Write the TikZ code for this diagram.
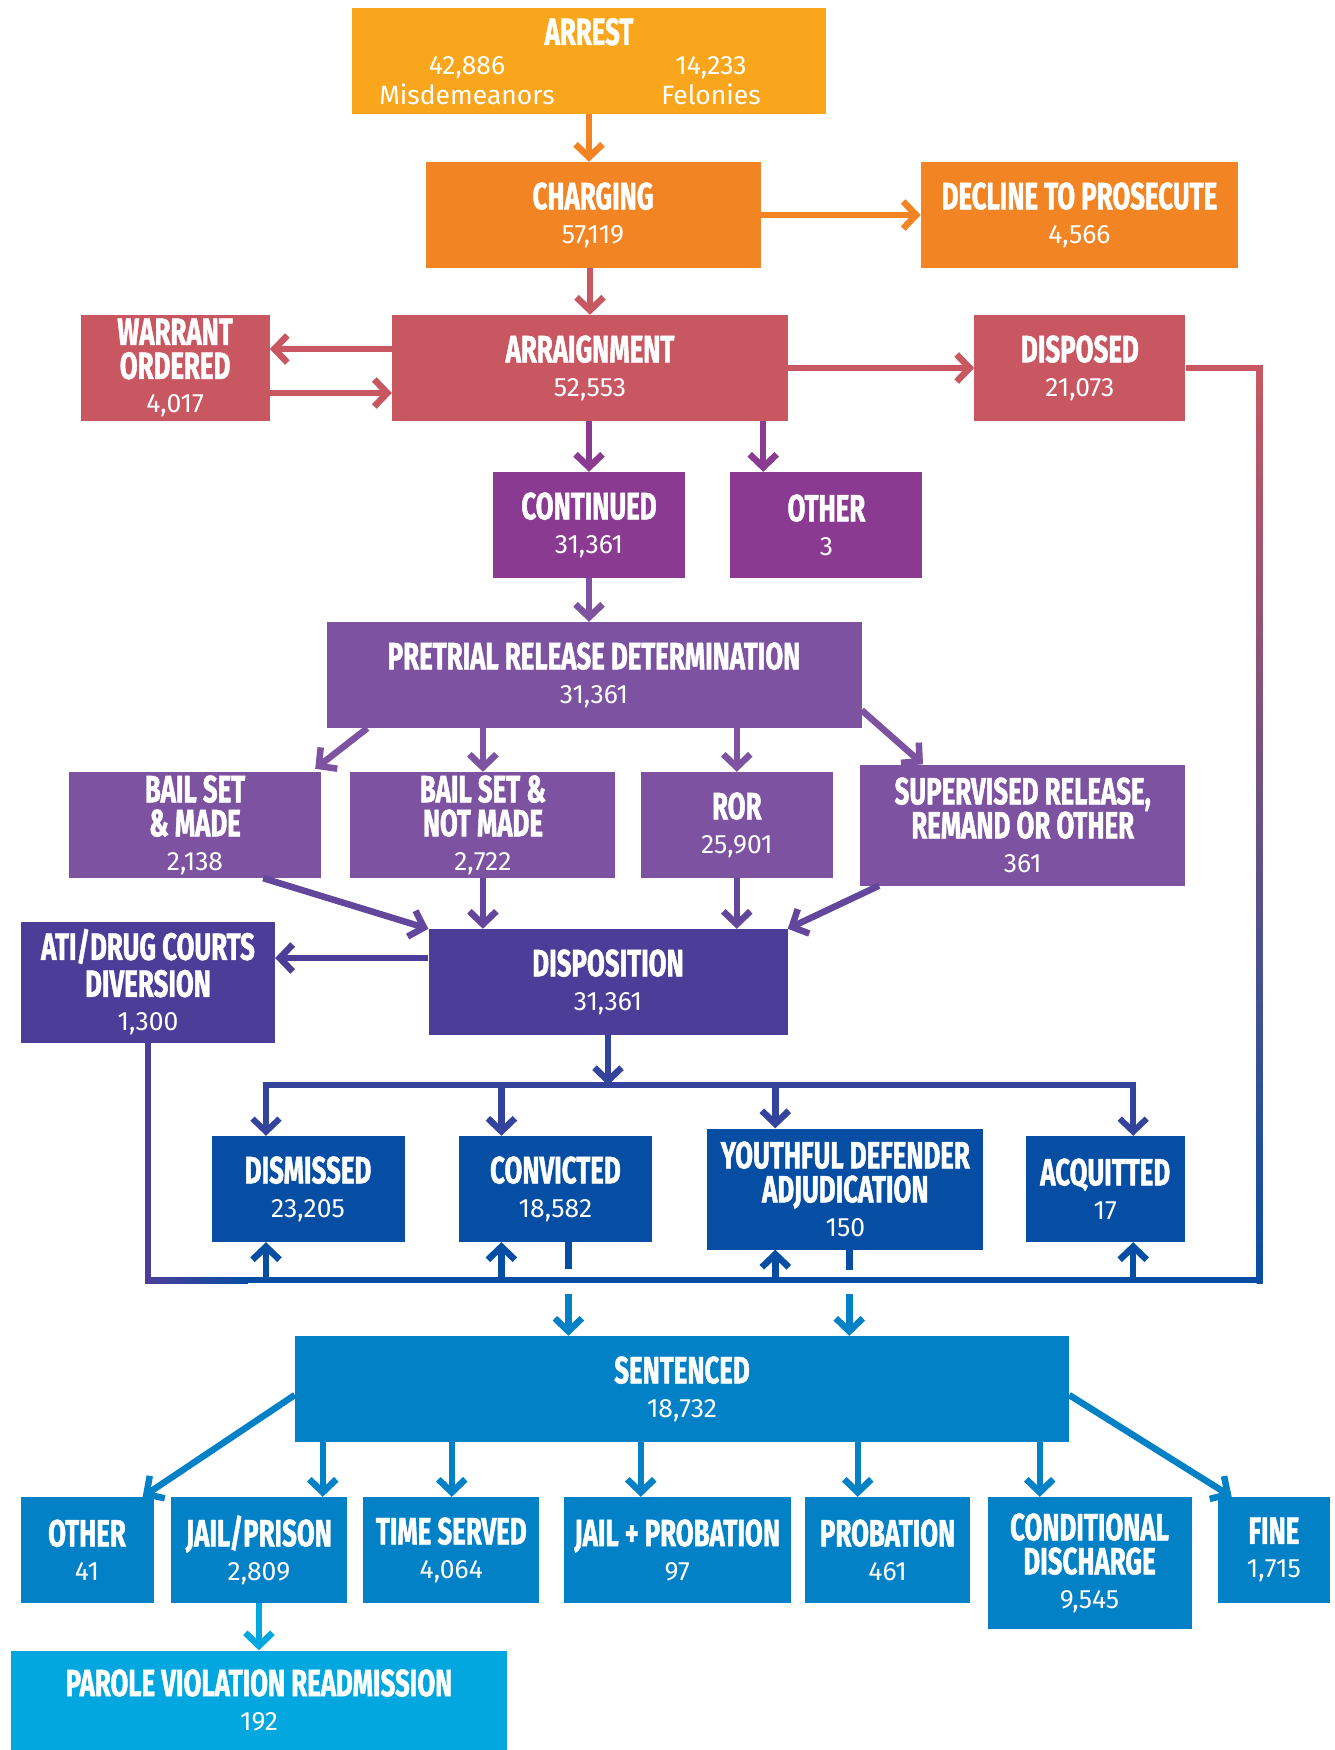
\documentclass[tikz,border=0pt]{standalone}
\usepackage{fontspec}
\usepackage{array}
\usetikzlibrary{positioning,arrows.meta}
\newfontfamily\hdfam{Fira Sans}[FakeStretch=0.68,FakeBold=1.2]
\newfontfamily\nmfam{Fira Sans}
\newcommand\hd{\hdfam\bfseries\fontsize{38}{34}\selectfont}
\newcommand\nm{\nmfam\mdseries\fontsize{26.5}{34}\selectfont}
\definecolor{cArrest}{HTML}{F9A61D}
\definecolor{cCharge}{HTML}{F28423}
\definecolor{cArraign}{HTML}{C95762}
\definecolor{cCont}{HTML}{8A3A91}
\definecolor{cPre}{HTML}{7C52A1}
\definecolor{cDisp}{HTML}{4C3E98}
\definecolor{cVerd}{HTML}{064EA3}
\definecolor{cSent}{HTML}{0281C6}
\definecolor{cParole}{HTML}{02A7E0}
\colorlet{cDispA}{cPre!45!cDisp}
\colorlet{cBus}{cDisp!65!cVerd}
\tikzset{
barb/.tip={Straight Barb[length=13pt,width=27pt]},
box/.style={fill=#1,text=white,align=center,inner sep=0pt,minimum height=106pt,font=\hd},
arr/.style={draw=#1,line width=6.5pt,-barb},
}
\begin{document}
\begin{tikzpicture}[x=1pt,y=-1pt]
\fill[white] (0,0) rectangle (1335,1750);
\useasboundingbox (0,0) rectangle (1335,1750);
\node[box=cArrest,minimum width=474pt](arrest) at (589,61){\rule{0pt}{36pt}ARREST\\[8pt]{\nm\fontsize{26.5}{29}\selectfont\begin{tabular}{@{}>{\centering}p{200pt}@{\hspace{44pt}}>{\centering\arraybackslash}p{200pt}@{}}42,886&14,233\\Misdemeanors&Felonies\end{tabular}}};
\node[box=cCharge,minimum width=335pt](charge) at (593,215){CHARGING\\\nm 57,119};
\node[box=cCharge,minimum width=317pt,right=160pt of charge](decline){DECLINE TO PROSECUTE\\\nm 4,566};
\node[box=cArraign,minimum width=396pt](arraign) at (590,368){ARRAIGNMENT\\\nm 52,553};
\node[box=cArraign,minimum width=189pt,left=122pt of arraign](warrant){WARRANT\\ORDERED\\\nm 4,017};
\node[box=cArraign,minimum width=211pt,right=186pt of arraign](disposed){DISPOSED\\\nm 21,073};
\node[box=cCont,minimum width=192pt](cont) at (589,525){CONTINUED\\\nm 31,361};
\node[box=cCont,minimum width=192pt,right=45pt of cont](other){OTHER\\\nm 3};
\node[box=cPre,minimum width=535pt](pre) at (594,675){PRETRIAL RELEASE DETERMINATION\\\nm 31,361};
\node[box=cPre,minimum width=252pt](bailm) at (195,825){BAIL SET\\\& MADE\\\nm 2,138};
\node[box=cPre,minimum width=265pt,right=29pt of bailm](bailn){BAIL SET \&\\NOT MADE\\\nm 2,722};
\node[box=cPre,minimum width=192pt,right=25pt of bailn](ror){ROR\\\nm 25,901};
\node[box=cPre,minimum width=325pt,minimum height=121pt,right=27pt of ror](sup){SUPERVISED RELEASE,\\REMAND OR OTHER\\\nm 361};
\node[box=cDisp,minimum width=359pt](disp) at (608,982){DISPOSITION\\\nm 31,361};
\node[box=cDisp,minimum width=254pt,minimum height=121pt](ati) at (148,982){ATI/DRUG COURTS\\[3pt]DIVERSION\\\nm 1,300};
\node[box=cVerd,minimum width=193pt](dism) at (308,1189){DISMISSED\\\nm 23,205};
\node[box=cVerd,minimum width=193pt,right=54pt of dism](conv){CONVICTED\\\nm 18,582};
\node[box=cVerd,minimum width=276pt,minimum height=121pt,right=55pt of conv](youth){YOUTHFUL DEFENDER\\ADJUDICATION\\\nm 150};
\node[box=cVerd,minimum width=159pt,right=42pt of youth](acq){ACQUITTED\\\nm 17};
\node[box=cSent,minimum width=774pt](sent) at (682,1389){SENTENCED\\\nm 18,732};
\node[box=cSent,minimum width=133pt](oth) at (87,1550){OTHER\\\nm 41};
\node[box=cSent,minimum width=176pt,right=17pt of oth](jail){JAIL/PRISON\\\nm 2,809};
\node[box=cSent,minimum width=176pt,right=16pt of jail](served){TIME SERVED\\\nm 4,064};
\node[box=cSent,minimum width=227pt,right=24pt of served](jprob){JAIL + PROBATION\\\nm 97};
\node[box=cSent,minimum width=165pt,right=14pt of jprob](prob){PROBATION\\\nm 461};
\node[box=cSent,minimum width=204pt,minimum height=132pt,right=17pt of prob.north east,anchor=north west](cond){CONDITIONAL\\DISCHARGE\\\nm 9,545};
\node[box=cSent,minimum width=112pt,right=26pt of cond.north east,anchor=north west](fine){FINE\\\nm 1,715};
\node[box=cParole,minimum width=496pt,minimum height=99pt](parole) at (259,1700){PAROLE VIOLATION READMISSION\\\nm 192};
\draw[arr=cCharge] (arrest.south) -- (arrest.south |- charge.north);
\draw[arr=cCharge] (charge.east) -- (decline.west);
\draw[arr=cArraign] (charge.south -| arraign.north) -- (arraign.north);
\draw[arr=cArraign] ([yshift=19pt]arraign.west) -- ([yshift=19pt]warrant.east);
\draw[arr=cArraign] ([yshift=-25pt]warrant.east) -- ([yshift=-25pt]arraign.west);
\draw[arr=cArraign] (arraign.east) -- (disposed.west);
\draw[arr=cCont] (arraign.south -| cont.north) -- (cont.north);
\path ([xshift=-25pt]arraign.south east) coordinate (a1);
\draw[arr=cCont] (a1) -- (a1 |- other.north);
\draw[arr=cPre] (cont.south) -- (cont.south |- pre.north);
\draw[arr=cPre] ([xshift=41pt]pre.south west) -- ([xshift=-6pt,yshift=3pt]bailm.north east);
\draw[arr=cPre] (pre.south -| bailn.north) -- (bailn.north);
\draw[arr=cPre] (pre.south -| ror.north) -- (ror.north);
\draw[arr=cPre] ([yshift=18pt]pre.south east) -- ([xshift=63pt]sup.north west);
\draw[arr=cDispA] ([xshift=-58pt]bailm.south east) -- (disp.north west);
\draw[arr=cDispA] (bailn.south) -- (bailn.south |- disp.north);
\draw[arr=cDispA] (ror.south) -- (ror.south |- disp.north);
\draw[arr=cDispA] ([xshift=19pt]sup.south west) -- (disp.north east);
\draw[arr=cDisp] ([yshift=24pt]disp.west) -- ([yshift=24pt]ati.east);
\path (disp.south) ++(0,50) coordinate (bj);
\path (conv.south) ++(0,38) coordinate (rj);
\foreach \n/\dx in {dism/-42,conv/-54,youth/-70,acq/28}{
\path ([xshift=\dx pt]\n.north) coordinate (t\n);
\path ([xshift=\dx pt]\n.south) coordinate (b\n);
}
\draw[cBus,line width=6pt,barb-barb] (tdism) -- (tdism |- bj) -- (tacq |- bj) -- (tacq);
\draw[arr=cBus] (disp.south) -- (bj);
\draw[arr=cBus] (tconv |- bj) -- (tconv);
\draw[arr=cBus] (tyouth |- bj) -- (tyouth);
\path (disposed.east) ++(74,0) coordinate (lp1);
\path (lp1 |- rj) coordinate (lp2);
\path (ati.south |- rj) coordinate (lp3);
\draw[cVerd,line width=6pt] (disposed.east) -- (lp1) -- (lp2) -- (lp3) -- (ati.south);
\draw[cArraign,line width=6pt] (disposed.east) -- (lp1);
\shade[top color=cArraign,bottom color=cVerd] ([xshift=-3pt,yshift=3pt]lp1) rectangle ([xshift=3pt,yshift=-3pt]lp2);
\draw[cDisp,line width=6pt] (ati.south) -- (lp3);
\shade[left color=cDisp,right color=cVerd] ([xshift=-3pt,yshift=3pt]lp3) rectangle ([xshift=100pt,yshift=-3pt]lp3);
\foreach \n in {dism,conv,youth,acq}
\draw[arr=cVerd] (b\n |- rj) -- (b\n);
\path ([xshift=13pt]conv.south) coordinate (c1);
\path (c1 |- sent.north) coordinate (c2);
\draw[cVerd,line width=6.5pt] (c1) -- ([yshift=-27pt]c1);
\draw[arr=cSent] ([yshift=42pt]c2) -- (c2);
\path ([xshift=4pt]youth.south) coordinate (y1);
\path (y1 |- sent.north) coordinate (y2);
\draw[cVerd,line width=6.5pt] (y1) -- ([yshift=-20pt]y1);
\draw[arr=cSent] ([yshift=42pt]y2) -- (y2);
\foreach \n/\dx in {jail/28,served/157,jprob/346,prob/563,cond/745}{
\path ([xshift=\dx pt]sent.south west) coordinate (s);
\draw[arr=cSent] (s) -- (s |- \n.north);
}
\draw[arr=cSent] ([yshift=-6pt]sent.west) -- ([xshift=-11pt]oth.north east);
\draw[arr=cSent] ([yshift=-6pt]sent.east) -- ([xshift=14pt]fine.north west);
\draw[arr=cParole] (jail.south) -- (jail.south |- parole.north);
\end{tikzpicture}
\end{document}
